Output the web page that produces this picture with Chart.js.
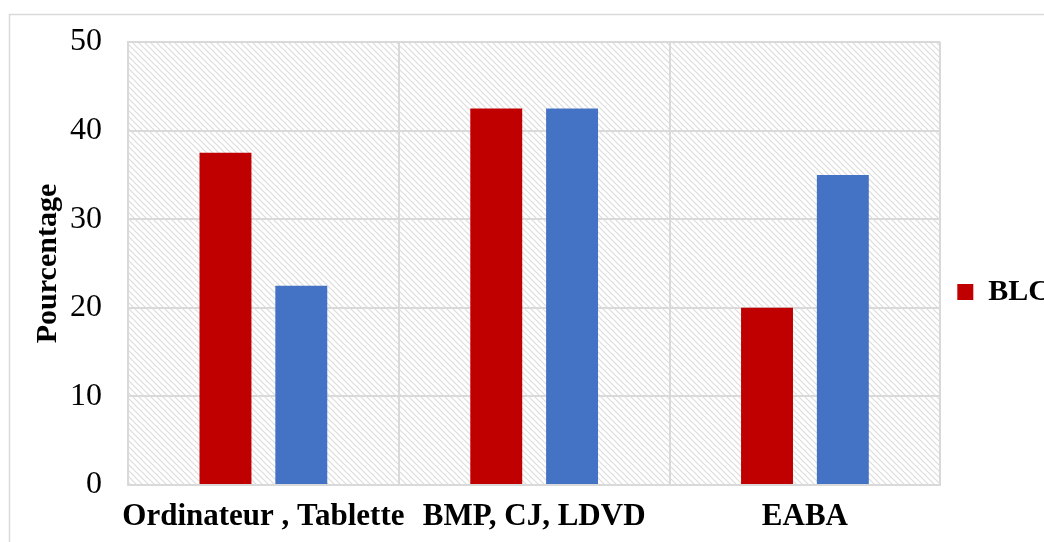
<!DOCTYPE html>
<html>
<head>
<meta charset="utf-8">
<script src="https://cdn.jsdelivr.net/npm/chart.js@4.4.1/dist/chart.umd.min.js"></script>
<style>
  html, body { margin: 0; padding: 0; background: #fff; }
  #wrap { width: 1044px; height: 542px; }
</style>
</head>
<body>
<div id="wrap"><canvas id="barChart" width="1044" height="542"></canvas></div>
<script>
const categories = ['Ordinateur , Tablette', 'BMP, CJ, LDVD', 'EABA'];
const blcValues = [37.5, 42.5, 20];
const otherValues = [22.5, 42.5, 35];
const yTicks = [0, 10, 20, 30, 40, 50];

const gridGray = '#d9d9d9';

// hatch tile for the plot background
function makeHatch() {
    const s = 6;
    const c = document.createElement('canvas');
    c.width = s; c.height = s;
    const g = c.getContext('2d');
    g.fillStyle = '#fff';
    g.fillRect(0, 0, s, s);
    g.strokeStyle = '#dcdcdc';
    g.lineWidth = 1.2;
    g.beginPath();
    g.moveTo(-1, -1); g.lineTo(s + 1, s + 1);
    g.moveTo(-1, s - 1); g.lineTo(1, s + 1);
    g.moveTo(s - 1, -1); g.lineTo(s + 1, 1);
    g.stroke();
    return c;
}

const backdrop = {
    id: 'backdrop',
    beforeDraw(chart) {
        const ctx = chart.ctx;
        const a = chart.chartArea;
        ctx.save();
        ctx.fillStyle = ctx.createPattern(makeHatch(), 'repeat');
        ctx.fillRect(a.left, a.top, a.right - a.left, a.bottom - a.top);
        // outer frame, cut by the picture edges
        ctx.strokeStyle = gridGray;
        ctx.lineWidth = 1.5;
        ctx.strokeRect(9.5, 14.5, 1100, 600);
        ctx.restore();
    }
};

const ctx = document.getElementById('barChart').getContext('2d');

new Chart(ctx, {
    type: 'bar',
    data: {
        labels: categories,
        datasets: [{
            label: 'BLC',
            data: blcValues,
            backgroundColor: '#c00000',
            categoryPercentage: 0.56,
            barPercentage: 0.685
        }, {
            label: 'Autre',
            data: otherValues,
            backgroundColor: '#4472c4',
            categoryPercentage: 0.56,
            barPercentage: 0.685
        }]
    },
    plugins: [backdrop],
    options: {
        responsive: false,
        animation: false,
        layout: { padding: { left: 0, top: 42, right: -16, bottom: 0 } },
        scales: {
            x: {
                grid: { color: gridGray, lineWidth: 2, drawTicks: false, offset: true },
                border: { color: gridGray, width: 2 },
                ticks: {
                    color: '#000',
                    autoSkip: false,
                    maxRotation: 0,
                    minRotation: 0,
                    padding: 13,
                    font: { family: 'Liberation Serif', size: 31, weight: 'bold' }
                },
                afterFit(scale) { scale.height = 57; }
            },
            y: {
                min: 0,
                max: 50,
                afterBuildTicks(scale) { scale.ticks = yTicks.map(v => ({ value: v })); },
                grid: { color: gridGray, lineWidth: 2, drawTicks: false },
                border: { color: gridGray, width: 2 },
                ticks: {
                    color: '#000',
                    padding: 26,
                    font: { family: 'Liberation Serif', size: 32, lineHeight: 1 }
                },
                title: {
                    display: true,
                    text: 'Pourcentage',
                    color: '#000',
                    padding: { top: 30, bottom: 0 },
                    font: { family: 'Liberation Serif', size: 30, weight: 'bold' }
                },
                afterFit(scale) { scale.width = 128; }
            }
        },
        plugins: {
            legend: {
                position: 'right',
                labels: {
                    filter: item => item.text === 'BLC',
                    boxWidth: 16,
                    boxHeight: 16,
                    padding: 17,
                    color: '#000',
                    font: { family: 'Liberation Serif', size: 30, weight: 'bold' }
                }
            },
            tooltip: { enabled: false }
        }
    }
});
</script>
</body>
</html>
